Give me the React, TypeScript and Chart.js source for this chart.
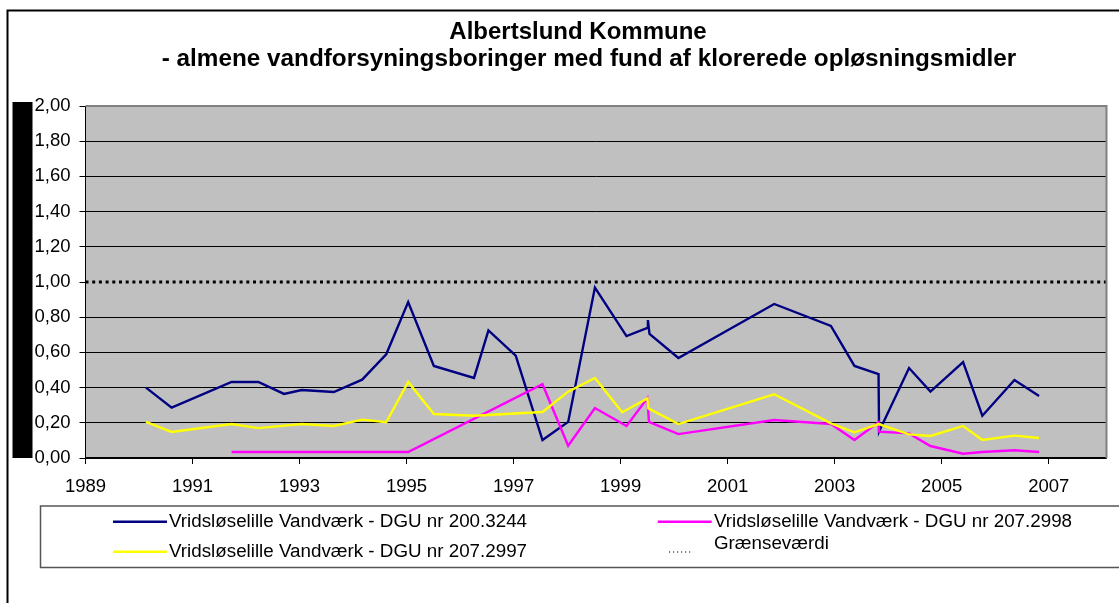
import React, { useEffect, useRef } from "react";
import { Chart, registerables } from "chart.js";

Chart.register(...registerables);

const FONT = "'Liberation Sans', Arial, Helvetica, sans-serif";

const titleLines = [
  "Albertslund Kommune",
  "- almene vandforsyningsboringer med fund af klorerede opløsningsmidler",
];

const seriesNames = [
  "Vridsløselille Vandværk - DGU nr 200.3244",
  "Vridsløselille Vandværk - DGU nr 207.2998",
  "Vridsløselille Vandværk - DGU nr 207.2997",
  "Grænseværdi",
];
const seriesColors = ["#000080", "#FF00FF", "#FFFF00", "#000000"];

// x axis (years) and y axis settings
const xMin = 1989;
const xMax = 2008.08;
const xTickYears = [1989, 1991, 1993, 1995, 1997, 1999, 2001, 2003, 2005, 2007];
const yMin = 0;
const yMax = 2;
const yStep = 0.2;

// DGU nr 200.3244 (blue)
const blueX = [
  1990.13, 1990.61, 1991.73, 1992.23, 1992.71, 1993.04, 1993.64, 1994.17, 1994.62, 1995.03,
  1995.51, 1996.26, 1996.53, 1997.04, 1997.54, 1998.02, 1998.52, 1999.11, 1999.5, 1999.51,
  1999.54, 2000.08, 2001.87, 2002.93, 2003.37, 2003.82, 2003.83, 2004.39, 2004.79, 2005.4,
  2005.76, 2006.36, 2006.82,
];
const blueY = [
  0.4, 0.286, 0.432, 0.432, 0.364, 0.386, 0.375, 0.445, 0.589, 0.886,
  0.523, 0.455, 0.725, 0.581, 0.102, 0.205, 0.968, 0.693, 0.739, 0.784,
  0.705, 0.568, 0.875, 0.75, 0.523, 0.477, 0.15, 0.511, 0.377, 0.545,
  0.24, 0.443, 0.352,
];

// DGU nr 207.2998 (magenta)
const magentaX = [
  1991.73, 1992.71, 1993.64, 1994.62, 1995.03, 1997.54, 1998.02, 1998.52, 1999.11, 1999.5,
  1999.53, 2000.08, 2001.87, 2002.93, 2003.37, 2003.82, 2003.83, 2004.39, 2004.79, 2005.4,
  2005.76, 2006.36, 2006.82,
];
const magentaY = [
  0.034, 0.034, 0.034, 0.034, 0.034, 0.419, 0.07, 0.284, 0.182, 0.339,
  0.205, 0.136, 0.216, 0.193, 0.102, 0.203, 0.15, 0.14, 0.068, 0.024,
  0.034, 0.044, 0.034,
];

// DGU nr 207.2997 (yellow)
const yellowX = [
  1990.13, 1990.61, 1991.73, 1992.23, 1993.04, 1993.64, 1994.17, 1994.62, 1995.03, 1995.51,
  1996.26, 1997.54, 1998.02, 1998.52, 1999.03, 1999.5, 1999.52, 2000.08, 2001.87, 2002.93,
  2003.37, 2003.82, 2004.39, 2004.79, 2005.4, 2005.76, 2006.36, 2006.82,
];
const yellowY = [
  0.205, 0.148, 0.193, 0.17, 0.193, 0.182, 0.218, 0.203, 0.432, 0.25,
  0.24, 0.261, 0.377, 0.455, 0.26, 0.339, 0.282, 0.193, 0.362, 0.197,
  0.146, 0.193, 0.134, 0.125, 0.182, 0.102, 0.127, 0.114,
];

// Limit value
const limitValue = 1.0;

const zip = (xs: number[], ys: number[]) => xs.map((x, i) => ({ x, y: ys[i] }));

const decorPlugin = {
  id: "decor",
  beforeDraw(chart: any) {
    const { ctx, chartArea: a, width, height } = chart;
    ctx.save();
    ctx.fillStyle = "#ffffff";
    ctx.fillRect(0, 0, width, height);
    // outer frame
    ctx.strokeStyle = "#000";
    ctx.lineWidth = 2;
    ctx.beginPath();
    ctx.moveTo(7.5, height + 5);
    ctx.lineTo(7.5, 10.5);
    ctx.lineTo(width + 5, 10.5);
    ctx.stroke();
    // black block (axis title area)
    ctx.fillStyle = "#000";
    ctx.fillRect(12.5, 102, 20, a.bottom - 102);
    // plot background
    ctx.fillStyle = "#C0C0C0";
    ctx.fillRect(a.left, a.top, a.right - a.left, a.bottom - a.top);
    ctx.restore();
  },
  afterDraw(chart: any) {
    const { ctx, chartArea: a, width } = chart;
    ctx.save();
    // plot border top/right
    ctx.strokeStyle = "#808080";
    ctx.lineWidth = 2;
    ctx.beginPath();
    ctx.moveTo(a.left, a.top);
    ctx.lineTo(a.right, a.top);
    ctx.lineTo(a.right, a.bottom);
    ctx.stroke();

    // title
    ctx.fillStyle = "#000";
    ctx.font = `bold 24px ${FONT}`;
    ctx.textAlign = "center";
    ctx.textBaseline = "alphabetic";
    ctx.fillText(titleLines[0], 578, 38.5);
    ctx.font = `bold 24.3px ${FONT}`;
    ctx.fillText(titleLines[1], 589, 66);

    // legend box
    ctx.fillStyle = "#fff";
    ctx.strokeStyle = "#555";
    ctx.lineWidth = 1.5;
    ctx.fillRect(40.5, 506, width, 61.5);
    ctx.strokeRect(40.5, 506, width, 61.5);

    const ds = chart.data.datasets;
    ctx.font = `18.8px ${FONT}`;
    ctx.textAlign = "left";
    ctx.textBaseline = "middle";
    const entries = [
      { i: 0, lx: 113, tx: 169, y: 521.7 },
      { i: 1, lx: 657.7, tx: 714, y: 521.7 },
      { i: 2, lx: 113, tx: 169, y: 551.7 },
    ];
    for (const e of entries) {
      ctx.strokeStyle = ds[e.i].borderColor;
      ctx.lineWidth = 2.5;
      ctx.setLineDash([]);
      ctx.beginPath();
      ctx.moveTo(e.lx, e.y);
      ctx.lineTo(e.lx + 54, e.y);
      ctx.stroke();
      ctx.fillStyle = "#000";
      ctx.fillText(ds[e.i].label, e.tx, e.y);
    }
    // limit entry
    ctx.strokeStyle = "#000";
    ctx.lineWidth = 1.2;
    ctx.setLineDash([1.2, 2.8]);
    ctx.beginPath();
    ctx.moveTo(669, 552);
    ctx.lineTo(693, 552);
    ctx.stroke();
    ctx.setLineDash([]);
    ctx.fillStyle = "#000";
    ctx.fillText(ds[3].label, 714, 544.3);
    ctx.restore();
  },
};

export default function App() {
  const ref = useRef<HTMLCanvasElement | null>(null);

  useEffect(() => {
    if (!ref.current) return;
    const chart = new Chart(ref.current, {
      type: "line",
      data: {
        datasets: [
          {
            label: seriesNames[0],
            data: zip(blueX, blueY),
            borderColor: seriesColors[0],
            borderWidth: 2.4,
            pointRadius: 0,
            tension: 0,
            order: 4,
          },
          {
            label: seriesNames[1],
            data: zip(magentaX, magentaY),
            borderColor: seriesColors[1],
            borderWidth: 2.4,
            pointRadius: 0,
            tension: 0,
            order: 3,
          },
          {
            label: seriesNames[2],
            data: zip(yellowX, yellowY),
            borderColor: seriesColors[2],
            borderWidth: 2.4,
            pointRadius: 0,
            tension: 0,
            order: 2,
          },
          {
            label: seriesNames[3],
            data: [
              { x: xMin, y: limitValue },
              { x: xMax, y: limitValue },
            ],
            borderColor: seriesColors[3],
            borderWidth: 3,
            borderDash: [3, 3.7],
            borderCapStyle: "butt",
            pointRadius: 0,
            order: 1,
          },
        ],
      },
      options: {
        animation: false,
        responsive: false,
        devicePixelRatio: 1,
        layout: { padding: { top: 106, right: 12.5, left: 0, bottom: 0 } },
        plugins: {
          legend: { display: false },
          title: { display: false },
          tooltip: { enabled: false },
        },
        scales: {
          x: {
            type: "linear",
            min: xMin,
            max: xMax,
            afterBuildTicks: (scale: any) => {
              scale.ticks = xTickYears.map((v) => ({ value: v }));
            },
            afterFit: (scale: any) => {
              scale.height = 145;
            },
            grid: {
              drawOnChartArea: false,
              drawTicks: true,
              tickLength: 6,
              color: "#000",
              tickColor: "#000",
            },
            border: { display: true, color: "#000", width: 1.5 },
            ticks: {
              autoSkip: false,
              maxRotation: 0,
              padding: 12,
              color: "#000",
              font: { family: FONT, size: 18.5 },
              callback: (v: any) => String(v),
            },
          },
          y: {
            type: "linear",
            min: yMin,
            max: yMax,
            afterFit: (scale: any) => {
              scale.width = 85.5;
            },
            grid: {
              drawTicks: true,
              tickLength: 6,
              lineWidth: 1,
              color: (c: any) =>
                Math.abs(c.tick.value - limitValue) < 1e-6
                  ? "rgba(0,0,0,0)"
                  : Math.abs(c.tick.value - yMax) < 1e-6
                  ? "#808080"
                  : "#000",
              tickColor: "#000",
            },
            border: { display: true, color: "#000", width: 1 },
            ticks: {
              stepSize: yStep,
              padding: 9,
              color: "#000",
              font: { family: FONT, size: 18.5 },
              callback: (v: any) => Number(v).toFixed(2).replace(".", ","),
            },
          },
        },
      },
      plugins: [decorPlugin],
    } as any);
    return () => chart.destroy();
  }, []);

  return (
    <div style={{ position: "absolute", left: 0, top: 0, width: 1119, height: 603, background: "#fff" }}>
      <canvas ref={ref} width={1119} height={603} style={{ display: "block" }} />
    </div>
  );
}
